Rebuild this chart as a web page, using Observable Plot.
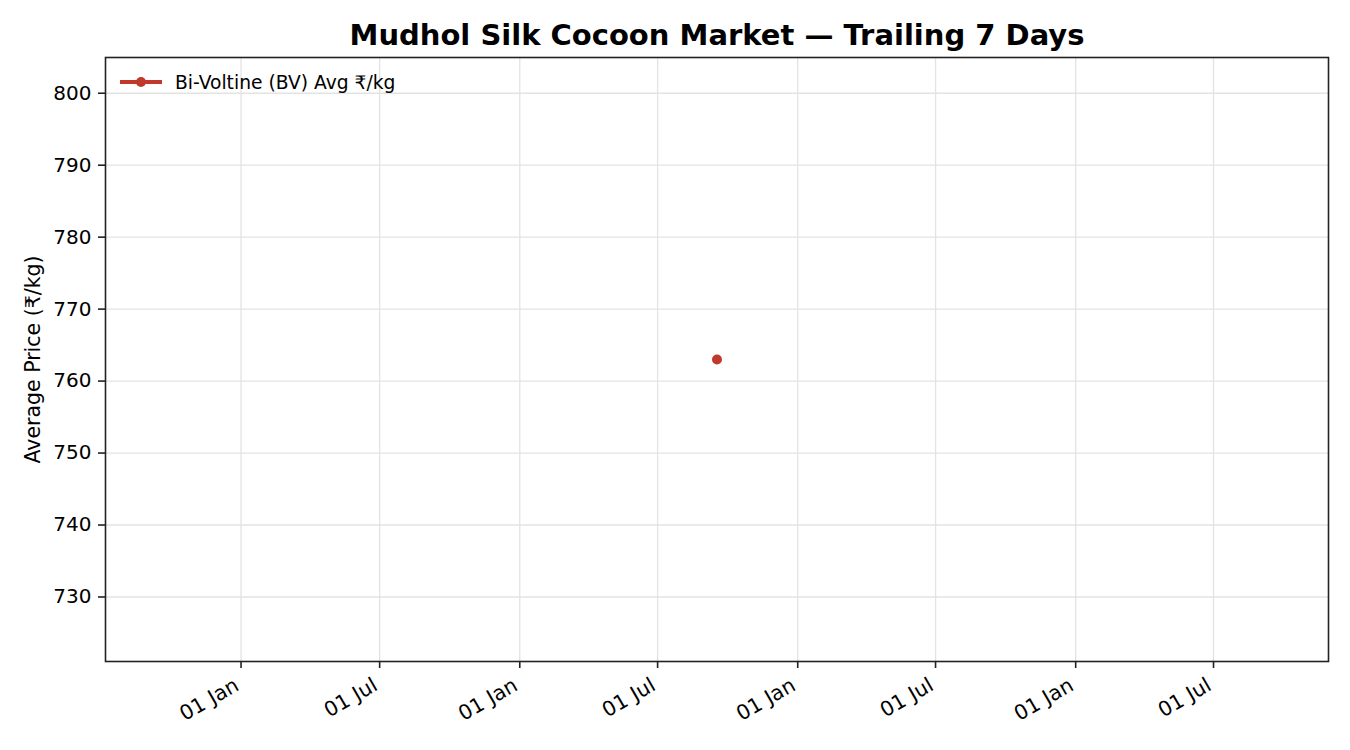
<!DOCTYPE html>
<html><head><meta charset="utf-8">
<script src="https://cdn.jsdelivr.net/npm/d3@7"></script>
<script src="https://cdn.jsdelivr.net/npm/@observablehq/plot@0.6"></script>
<style>
body{margin:0;background:#fff;font-family:"DejaVu Sans",sans-serif;}
#wrap{position:relative;width:1350px;height:750px;}
#legend{position:absolute;left:120px;top:71px;height:22px;display:flex;align-items:center;font-size:18.7px;color:#000;}
#legend .sw{position:relative;width:42px;height:22px;margin-right:13px;}
#legend .ln{position:absolute;left:0;top:9.25px;width:42px;height:3.5px;background:#c0392b;}
#legend .pt{position:absolute;left:16px;top:6px;width:10px;height:10px;border-radius:50%;background:#c0392b;}
</style></head>
<body>
<div id="wrap">
<div id="chart"></div>
<div id="legend"><div class="sw"><div class="ln"></div><div class="pt"></div></div><span id="legtext"></span></div>
</div>
<script>
const titleText = "Mudhol Silk Cocoon Market — Trailing 7 Days";
const yLabel = "Average Price (₹/kg)";
const seriesName = "Bi-Voltine (BV) Avg ₹/kg";
const dates = ["2025-09-17"];
const bvPrices = [763];
const xTickDates = ["2024-01-01","2024-07-01","2025-01-01","2025-07-01","2026-01-01","2026-07-01","2027-01-01","2027-07-01"];
const yTicks = [730, 740, 750, 760, 770, 780, 790, 800];

const data = dates.map((d, i) => ({date: new Date(d), price: bvPrices[i]}));
const xticks = xTickDates.map(d => new Date(d));
const d0 = data[0].date;
const xDomain = [d3.utcDay.offset(d0, -803), d3.utcDay.offset(d0, 803)];
const yPad = bvPrices[0] * 0.05 * 1.1;
const yDomain = [bvPrices[0] - yPad, bvPrices[0] + yPad];
const fmt = d3.utcFormat("%d %b");

document.getElementById("legtext").textContent = seriesName;

const chart = Plot.plot({
  width: 1350, height: 750,
  marginTop: 57, marginRight: 22, marginBottom: 89, marginLeft: 105,
  style: {fontFamily: "DejaVu Sans", fontSize: "20px", color: "#000", background: "#fff"},
  x: {type: "utc", domain: xDomain},
  y: {domain: yDomain},
  marks: [
    Plot.gridX(xticks, {stroke: "#e3e3e3", strokeOpacity: 1, strokeWidth: 1.3}),
    Plot.gridY(yTicks, {stroke: "#e3e3e3", strokeOpacity: 1, strokeWidth: 1.3}),
    Plot.frame({stroke: "#222", strokeWidth: 1.6}),
    Plot.axisY(yTicks, {tickSize: 7, tickPadding: 7, fontSize: 20, label: null, stroke: "#222", strokeWidth: 1.6}),
    Plot.axisX(xticks, {tickSize: 7, tickFormat: () => "", label: null, stroke: "#222", strokeWidth: 1.6}),
    Plot.axisX(xticks, {tickSize: 0, tickPadding: 22, dx: -4, tickRotate: -30, tickFormat: fmt, fontSize: 20.5, label: null}),
    Plot.dot(data, {x: "date", y: "price", r: 5, fill: "#c0392b", stroke: null}),
    Plot.text([yLabel], {text: d => d, frameAnchor: "left", textAnchor: "middle", lineAnchor: "middle", rotate: -90, dx: -72, fontSize: 20.5, fill: "#000"}),
    Plot.text([titleText], {text: d => d, frameAnchor: "top", lineAnchor: "middle", dy: -22, fontSize: 29, fontWeight: "bold", fill: "#000"})
  ]
});
document.getElementById("chart").appendChild(chart);
</script>
</body></html>
